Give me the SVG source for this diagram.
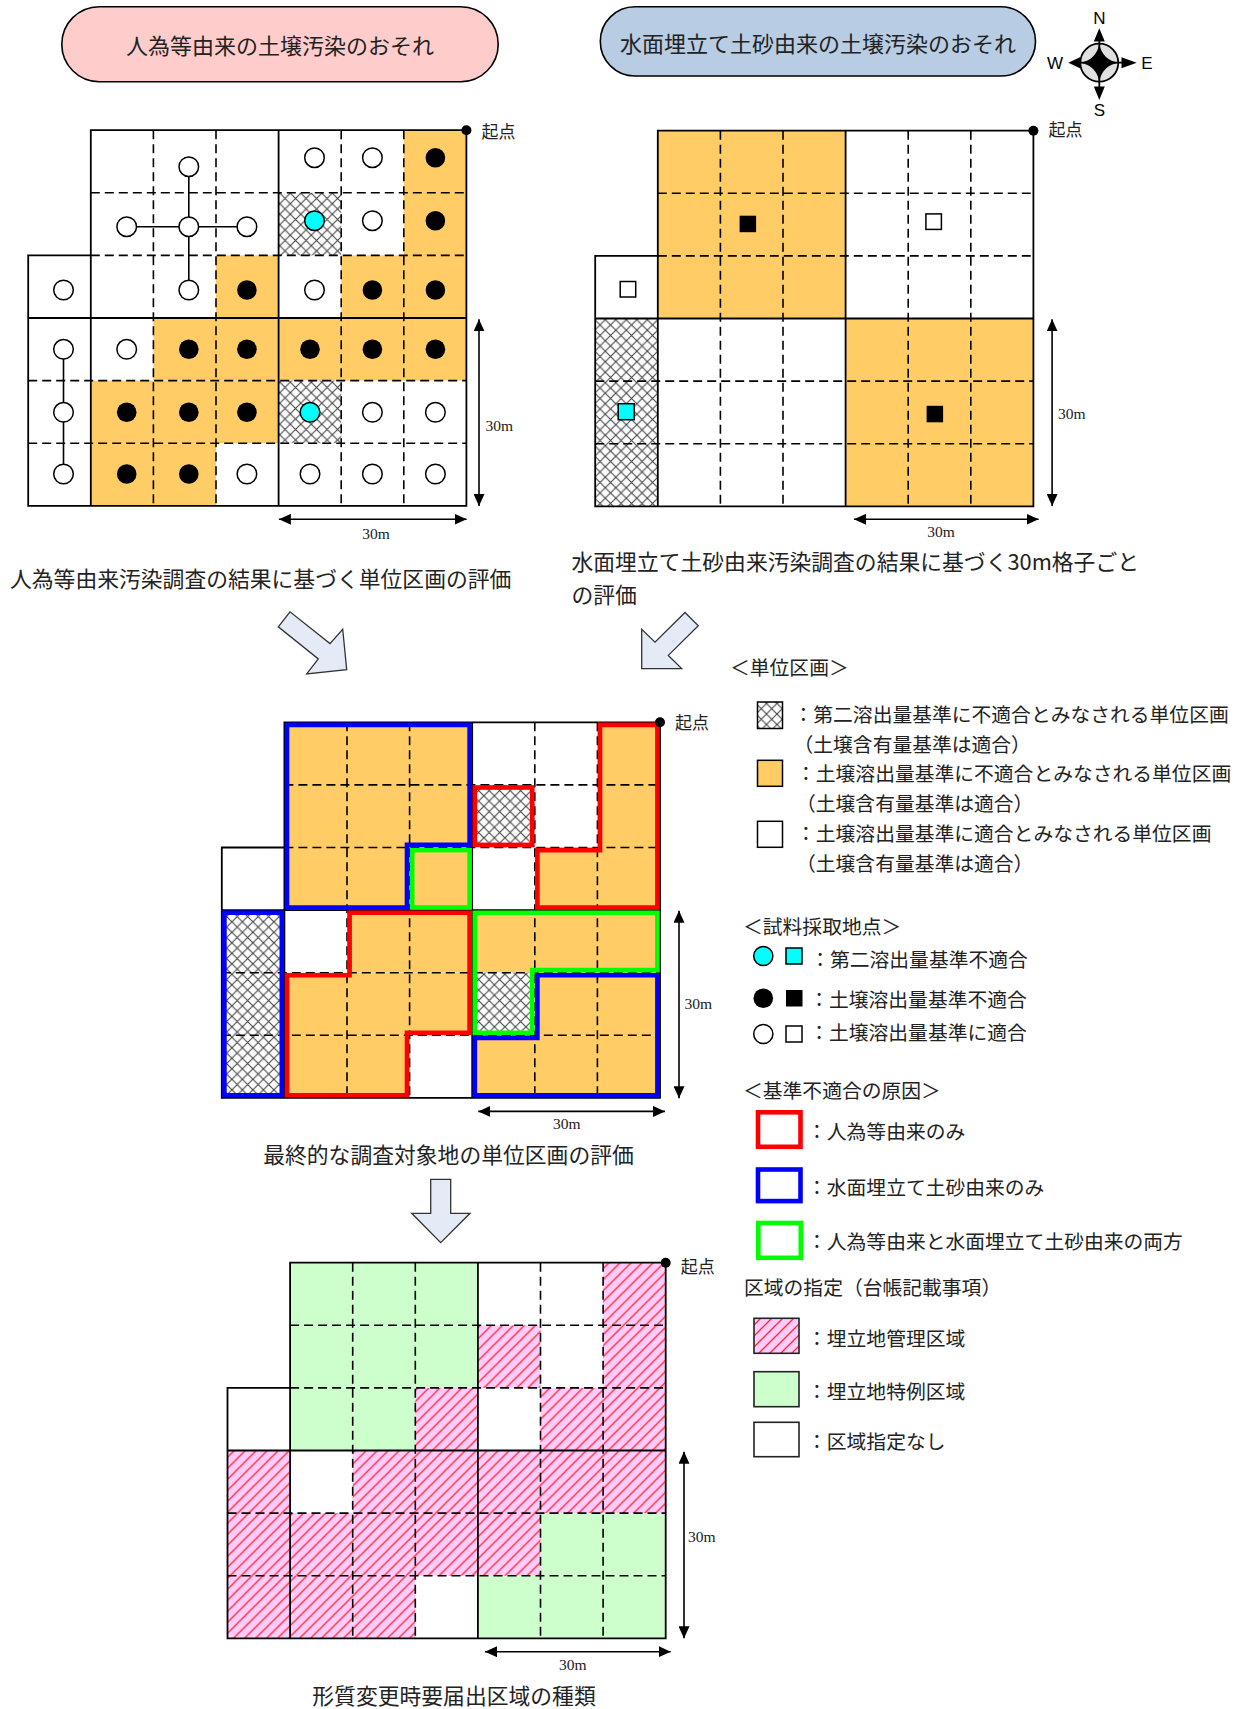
<svg xmlns="http://www.w3.org/2000/svg" width="1247" height="1709" viewBox="0 0 1247 1709">
<style>
.t{font-family:"Noto Sans CJK JP","Noto Sans CJK SC",sans-serif;fill:#222}
.hd{font-size:22px}
.cap{font-size:21.8px}
.lg{font-size:19.8px}
.kt{font-size:17px}
.dim{font-family:"Liberation Serif",serif;font-size:15.5px;fill:#222}
.cmp{font-family:"Liberation Sans",sans-serif;font-size:17px;fill:#000}
.dash{fill:none;stroke:#000;stroke-width:1.6;stroke-dasharray:9 5}
.sol{fill:none;stroke:#000;stroke-width:1.8}
.o{fill:#FFCC66}
.g{fill:#CCFFCC}
.h{fill:url(#xh)}
.p{fill:url(#ph)}
.w{fill:#fff}
.oc{fill:#fff;stroke:#000;stroke-width:1.5}
.fc{fill:#000}
.cc{fill:#00FFFF;stroke:#000;stroke-width:1.5}
.ar{fill:#E4EBF6;stroke:#333;stroke-width:1.3}
.ol{fill:none;stroke-width:4.6}
.dl{stroke:#000;stroke-width:1.6;marker-start:url(#ah);marker-end:url(#ah)}
.lb{stroke:#000;stroke-width:1.6}
</style>
<defs>
<pattern id="xh" patternUnits="userSpaceOnUse" width="10.5" height="10.5">
<rect width="10.5" height="10.5" fill="#fff"/>
<path d="M0,0L10.5,10.5M10.5,0L0,10.5" stroke="#444" stroke-width="1.1"/>
</pattern>
<pattern id="ph" patternUnits="userSpaceOnUse" width="11" height="11">
<rect width="11" height="11" fill="#FFCCFF"/>
<path d="M0,11L11,0M-2,2L2,-2M9,13L13,9" stroke="#FF2A2A" stroke-width="1.3"/>
</pattern>
<marker id="ah" viewBox="0 0 12 11" refX="12" refY="5.5" markerWidth="12" markerHeight="11" markerUnits="userSpaceOnUse" orient="auto-start-reverse">
<path d="M0,0L12,5.5L0,11z" fill="#000"/>
</marker>
<g id="gl">
<path class="dash" d="M62.6,0V375.6M125.2,0V375.6M250.4,0V375.6M313,0V375.6M0,62.6H375.6M0,125.2H375.6M-62.6,250.4H375.6M-62.6,313H375.6"/>
<path class="sol" d="M0,0H375.6V375.6H-62.6V125.2H0ZM0,125.2V375.6M187.8,0V375.6M-62.6,187.8H375.6"/>
</g>
</defs>
<rect width="1247" height="1709" fill="#fff"/>

<g id="header-anthropogenic">
<rect x="61.8" y="6.7" width="436.4" height="75" rx="37.5" fill="#FFCCCC" stroke="#000" stroke-width="1.6"/>
<text class="t hd" x="280" y="44" text-anchor="middle" dominant-baseline="central">人為等由来の土壌汚染のおそれ</text>
</g>
<g id="header-landfill">
<rect x="600.3" y="6.7" width="435.2" height="69.3" rx="34.6" fill="#B8CCE4" stroke="#000" stroke-width="1.6"/>
<text class="t hd" x="818" y="41.5" text-anchor="middle" dominant-baseline="central">水面埋立て土砂由来の土壌汚染のおそれ</text>
</g>

<g id="compass">
<circle cx="1099.3" cy="62.7" r="19" fill="#E0E0E0" stroke="#000" stroke-width="1.8"/>
<path d="M1099.3,43.7Q1102.3,59.7 1118.3,62.7Q1102.3,65.7 1099.3,81.7Q1096.3,65.7 1080.3,62.7Q1096.3,59.7 1099.3,43.7Z" fill="#000"/>
<path d="M1099.3,36V90M1074,62.7H1130" stroke="#000" stroke-width="1.8"/>
<path d="M1099.3,28.3L1093.8,41.5L1104.8,41.5ZM1099.3,100L1093.8,86.5L1104.8,86.5ZM1068.3,62.7L1080,57.2L1080,68.2ZM1136.7,62.7L1121.5,57.2L1121.5,68.2Z" fill="#000"/>
<text class="cmp" x="1099.3" y="18.3" text-anchor="middle" dominant-baseline="central">N</text>
<text class="cmp" x="1099.3" y="110" text-anchor="middle" dominant-baseline="central">S</text>
<text class="cmp" x="1055" y="63.5" text-anchor="middle" dominant-baseline="central">W</text>
<text class="cmp" x="1147" y="63.5" text-anchor="middle" dominant-baseline="central">E</text>
</g>

<g id="grid-anthropogenic">
<g transform="translate(90.8,130.2)">
<path class="w" d="M0,0H375.6V375.6H-62.6V125.2H0Z"/>
<rect class="o" x="313" y="0" width="62.6" height="187.8"/>
<rect class="o" x="125.2" y="125.2" width="62.6" height="62.6"/>
<rect class="o" x="250.4" y="125.2" width="62.6" height="62.6"/>
<rect class="o" x="62.6" y="187.8" width="313" height="62.6"/>
<rect class="o" x="0" y="250.4" width="187.8" height="62.6"/>
<rect class="o" x="0" y="313" width="125.2" height="62.6"/>
<rect class="h" x="187.8" y="62.6" width="62.6" height="62.6"/>
<rect class="h" x="187.8" y="250.4" width="62.6" height="62.6"/>
<use href="#gl"/>
</g>
<path class="lb" d="M188.8,166.7V290M126.7,226.7H246.9M63.5,349.3V474"/>
<g>
<circle class="oc" cx="314.5" cy="157.7" r="9.8"/><circle class="oc" cx="372.4" cy="157.7" r="9.8"/>
<circle class="oc" cx="372.4" cy="220.7" r="9.8"/><circle class="oc" cx="63.5" cy="290" r="9.8"/>
<circle class="oc" cx="314.5" cy="290" r="9.8"/><circle class="oc" cx="63.5" cy="349.3" r="9.8"/>
<circle class="oc" cx="126.7" cy="349.3" r="9.8"/><circle class="oc" cx="63.5" cy="412.3" r="9.8"/>
<circle class="oc" cx="372.4" cy="412.3" r="9.8"/><circle class="oc" cx="435.4" cy="412.3" r="9.8"/>
<circle class="oc" cx="63.5" cy="474" r="9.8"/><circle class="oc" cx="246.9" cy="474" r="9.8"/>
<circle class="oc" cx="310" cy="474" r="9.8"/><circle class="oc" cx="372.4" cy="474" r="9.8"/>
<circle class="oc" cx="435.4" cy="474" r="9.8"/>
<circle class="oc" cx="188.8" cy="166.7" r="9.8"/><circle class="oc" cx="188.8" cy="226.7" r="9.8"/>
<circle class="oc" cx="188.8" cy="290" r="9.8"/><circle class="oc" cx="126.7" cy="226.7" r="9.8"/>
<circle class="oc" cx="246.9" cy="226.7" r="9.8"/>
<circle class="fc" cx="435.4" cy="157.7" r="9.8"/><circle class="fc" cx="435.4" cy="220.7" r="9.8"/>
<circle class="fc" cx="246.9" cy="290" r="9.8"/><circle class="fc" cx="372.4" cy="290" r="9.8"/>
<circle class="fc" cx="435.4" cy="290" r="9.8"/><circle class="fc" cx="188.8" cy="349.3" r="9.8"/>
<circle class="fc" cx="246.9" cy="349.3" r="9.8"/><circle class="fc" cx="310" cy="349.3" r="9.8"/>
<circle class="fc" cx="372.4" cy="349.3" r="9.8"/><circle class="fc" cx="435.4" cy="349.3" r="9.8"/>
<circle class="fc" cx="126.7" cy="412.3" r="9.8"/><circle class="fc" cx="188.8" cy="412.3" r="9.8"/>
<circle class="fc" cx="246.9" cy="412.3" r="9.8"/><circle class="fc" cx="126.7" cy="474" r="9.8"/>
<circle class="fc" cx="188.8" cy="474" r="9.8"/>
<circle class="cc" cx="314.5" cy="220.7" r="9.8"/><circle class="cc" cx="310" cy="412.3" r="9.8"/>
</g>
<circle cx="466.4" cy="130.2" r="5" fill="#000"/>
<text class="t kt" x="481.5" y="130.5" dominant-baseline="central">起点</text>
<line class="dl" x1="479" y1="319.3" x2="479" y2="506"/>
<text class="dim" x="499.3" y="425" text-anchor="middle" dominant-baseline="central">30m</text>
<line class="dl" x1="278.9" y1="519.3" x2="466.6" y2="519.3"/>
<text class="dim" x="376" y="533.3" text-anchor="middle" dominant-baseline="central">30m</text>
<text class="t cap" x="10" y="577.5" dominant-baseline="central">人為等由来汚染調査の結果に基づく単位区画の評価</text>
</g>

<g id="grid-landfill">
<g transform="translate(657.8,130.7)">
<path class="w" d="M0,0H375.6V375.6H-62.6V125.2H0Z"/>
<rect class="o" x="0" y="0" width="187.8" height="187.8"/>
<rect class="o" x="187.8" y="187.8" width="187.8" height="187.8"/>
<rect class="h" x="-62.6" y="187.8" width="62.6" height="187.8"/>
<use href="#gl"/>
</g>
<rect x="739.6" y="215.7" width="16.5" height="16.5" fill="#000"/>
<rect class="oc" x="925.9" y="213.9" width="15.5" height="15.5"/>
<rect class="oc" x="620.2" y="281.5" width="15.5" height="15.5"/>
<rect class="cc" x="618.2" y="403.7" width="16" height="16"/>
<rect x="926.6" y="405.8" width="16.5" height="16.5" fill="#000"/>
<circle cx="1033.4" cy="130.7" r="5" fill="#000"/>
<text class="t kt" x="1048.6" y="128.5" dominant-baseline="central">起点</text>
<line class="dl" x1="1052.1" y1="319.3" x2="1052.1" y2="506"/>
<text class="dim" x="1071.8" y="413.3" text-anchor="middle" dominant-baseline="central">30m</text>
<line class="dl" x1="854" y1="519.3" x2="1038.6" y2="519.3"/>
<text class="dim" x="941" y="531.5" text-anchor="middle" dominant-baseline="central">30m</text>
<text class="t cap" x="571.5" y="560.9" dominant-baseline="central">水面埋立て土砂由来汚染調査の結果に基づく30m格子ごと<tspan x="571.5" dy="31.8">の評価</tspan></text>
</g>

<g id="grid-final">
<g transform="translate(284.4,722.3)">
<path class="w" d="M0,0H375.6V375.6H-62.6V125.2H0Z"/>
<rect class="o" x="0" y="0" width="187.8" height="187.8"/>
<rect class="o" x="313" y="0" width="62.6" height="187.8"/>
<rect class="o" x="250.4" y="125.2" width="62.6" height="62.6"/>
<rect class="o" x="62.6" y="187.8" width="125.2" height="62.6"/>
<rect class="o" x="0" y="250.4" width="187.8" height="62.6"/>
<rect class="o" x="0" y="313" width="125.2" height="62.6"/>
<rect class="o" x="187.8" y="187.8" width="187.8" height="62.6"/>
<rect class="o" x="250.4" y="250.4" width="125.2" height="62.6"/>
<rect class="o" x="187.8" y="313" width="187.8" height="62.6"/>
<rect class="h" x="187.8" y="62.6" width="62.6" height="62.6"/>
<rect class="h" x="-62.6" y="187.8" width="62.6" height="187.8"/>
<rect class="h" x="187.8" y="250.4" width="62.6" height="62.6"/>
<use href="#gl"/>
<path class="ol" stroke="#0000FF" d="M2.6,2.6H185.2V122.6H122.6V185.2H2.6Z"/>
<rect class="ol" stroke="#00FF00" x="127.8" y="127.8" width="57.4" height="57.4"/>
<path class="ol" stroke="#FF0000" d="M315.6,2.6H373V185.2H253V127.8H315.6Z"/>
<rect class="ol" stroke="#FF0000" x="190.4" y="65.2" width="57.4" height="57.4"/>
<rect class="ol" stroke="#0000FF" x="-60" y="190.4" width="57.4" height="182.6"/>
<path class="ol" stroke="#FF0000" d="M65.2,190.4H185.2V310.4H122.6V373H2.6V253H65.2Z"/>
<path class="ol" stroke="#00FF00" d="M190.4,190.4H373V247.8H247.8V310.4H190.4Z"/>
<path class="ol" stroke="#0000FF" d="M253,253H373V373H190.4V315.6H253Z"/>
</g>
<circle cx="660" cy="722.3" r="5" fill="#000"/>
<text class="t kt" x="675" y="721.5" dominant-baseline="central">起点</text>
<line class="dl" x1="679" y1="910.7" x2="679" y2="1098.2"/>
<text class="dim" x="698.3" y="1003.6" text-anchor="middle" dominant-baseline="central">30m</text>
<line class="dl" x1="478.3" y1="1111.4" x2="665" y2="1111.4"/>
<text class="dim" x="566.7" y="1123.2" text-anchor="middle" dominant-baseline="central">30m</text>
<text class="t cap" x="448.5" y="1153" text-anchor="middle" dominant-baseline="central">最終的な調査対象地の単位区画の評価</text>
</g>

<g id="grid-designation">
<g transform="translate(290.1,1262.7)">
<path class="w" d="M0,0H375.6V375.6H-62.6V125.2H0Z"/>
<rect class="g" x="0" y="0" width="187.8" height="125.2"/>
<rect class="g" x="0" y="125.2" width="125.2" height="62.6"/>
<rect class="g" x="250.4" y="250.4" width="125.2" height="62.6"/>
<rect class="g" x="187.8" y="313" width="187.8" height="62.6"/>
<rect class="p" x="313" y="0" width="62.6" height="187.8"/>
<rect class="p" x="187.8" y="62.6" width="62.6" height="62.6"/>
<rect class="p" x="125.2" y="125.2" width="62.6" height="62.6"/>
<rect class="p" x="250.4" y="125.2" width="62.6" height="62.6"/>
<rect class="p" x="-62.6" y="187.8" width="62.6" height="187.8"/>
<rect class="p" x="62.6" y="187.8" width="313" height="62.6"/>
<rect class="p" x="0" y="250.4" width="250.4" height="62.6"/>
<rect class="p" x="0" y="313" width="125.2" height="62.6"/>
<use href="#gl"/>
</g>
<circle cx="665.7" cy="1262.7" r="5" fill="#000"/>
<text class="t kt" x="680.7" y="1265" dominant-baseline="central">起点</text>
<line class="dl" x1="684" y1="1451.7" x2="684" y2="1638.3"/>
<text class="dim" x="701.7" y="1536.7" text-anchor="middle" dominant-baseline="central">30m</text>
<line class="dl" x1="485" y1="1651.7" x2="670.7" y2="1651.7"/>
<text class="dim" x="572.7" y="1664" text-anchor="middle" dominant-baseline="central">30m</text>
<text class="t cap" x="454" y="1694" text-anchor="middle" dominant-baseline="central">形質変更時要届出区域の種類</text>
</g>

<g id="connectors">
<polygon class="ar" points="278.3,626.8 290,611.8 330,643.6 342.7,629.3 346.7,669.6 306.7,673.9 318.3,658.9"/>
<polygon class="ar" points="685,612.5 698.3,625.7 668.3,655.4 681.7,668.6 641.7,668.6 641.7,629.3 655,642.1"/>
<polygon class="ar" points="430.7,1179.3 450.7,1179.3 450.7,1213.3 470,1213.3 440.7,1242.7 411.7,1213.3 430.7,1213.3"/>
</g>

<g id="legend-unit">
<text class="t lg" x="730" y="666.7" dominant-baseline="central">＜単位区画＞</text>
<rect class="h" x="757.5" y="702" width="25" height="26.5" stroke="#000" stroke-width="1.5"/>
<text class="t lg" x="793.5" y="713.5" dominant-baseline="central">：第二溶出量基準に不適合とみなされる単位区画<tspan x="793.5" dy="29">（土壌含有量基準は適合）</tspan></text>
<rect class="o" x="757.5" y="760.3" width="25" height="26" stroke="#000" stroke-width="1.5"/>
<text class="t lg" x="796" y="772.6" dominant-baseline="central">：土壌溶出量基準に不適合とみなされる単位区画<tspan x="796" dy="29">（土壌含有量基準は適合）</tspan></text>
<rect class="w" x="757.5" y="821.3" width="25" height="26" stroke="#000" stroke-width="1.5"/>
<text class="t lg" x="796" y="832.6" dominant-baseline="central">：土壌溶出量基準に適合とみなされる単位区画<tspan x="796" dy="29">（土壌含有量基準は適合）</tspan></text>
</g>

<g id="legend-sample">
<text class="t lg" x="743" y="925" dominant-baseline="central">＜試料採取地点＞</text>
<circle class="cc" cx="763.3" cy="956" r="9.6"/>
<rect class="cc" x="786" y="948" width="16" height="16"/>
<text class="t lg" x="810.2" y="958.3" dominant-baseline="central">：第二溶出量基準不適合</text>
<circle class="fc" cx="763.3" cy="998.3" r="9.8"/>
<rect x="786" y="990" width="16.5" height="16.5" fill="#000"/>
<text class="t lg" x="809.2" y="998.3" dominant-baseline="central">：土壌溶出量基準不適合</text>
<circle class="oc" cx="763.3" cy="1034" r="9.6"/>
<rect class="oc" x="786" y="1026" width="16" height="16"/>
<text class="t lg" x="809.2" y="1031.7" dominant-baseline="central">：土壌溶出量基準に適合</text>
</g>

<g id="legend-cause">
<text class="t lg" x="743" y="1089.3" dominant-baseline="central">＜基準不適合の原因＞</text>
<rect class="ol" stroke="#FF0000" x="758" y="1112.3" width="42.5" height="34.5" fill="#fff"/>
<text class="t lg" x="807" y="1130" dominant-baseline="central">：人為等由来のみ</text>
<rect class="ol" stroke="#0000FF" x="758" y="1169.5" width="42.5" height="31.6"/>
<text class="t lg" x="807" y="1186" dominant-baseline="central">：水面埋立て土砂由来のみ</text>
<rect class="ol" stroke="#00FF00" x="758.3" y="1223" width="42.5" height="34.8"/>
<text class="t lg" x="807" y="1240.7" dominant-baseline="central">：人為等由来と水面埋立て土砂由来の両方</text>
</g>

<g id="legend-zone">
<text class="t lg" x="744" y="1286" dominant-baseline="central">区域の指定（台帳記載事項）</text>
<rect class="p" x="754" y="1318.3" width="45" height="35" stroke="#222" stroke-width="1.6"/>
<text class="t lg" x="807" y="1337.3" dominant-baseline="central">：埋立地管理区域</text>
<rect class="g" x="754" y="1371.7" width="45" height="35" stroke="#222" stroke-width="1.6"/>
<text class="t lg" x="807" y="1390" dominant-baseline="central">：埋立地特例区域</text>
<rect class="w" x="754" y="1422.3" width="45" height="34.4" stroke="#222" stroke-width="1.6"/>
<text class="t lg" x="807" y="1440" dominant-baseline="central">：区域指定なし</text>
</g>
</svg>
